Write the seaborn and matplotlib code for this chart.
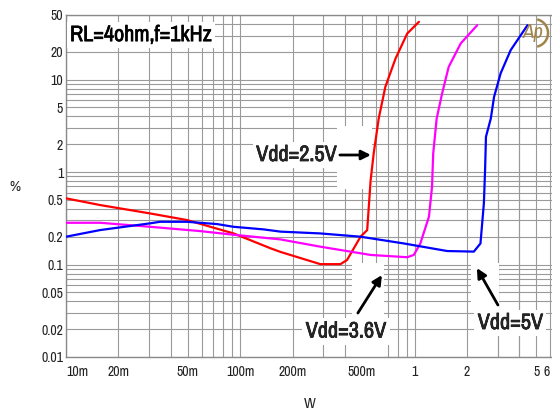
import matplotlib
matplotlib.use("Agg")
import numpy as np
import pandas as pd
import matplotlib.pyplot as plt
from matplotlib import font_manager
from matplotlib import patheffects
from matplotlib.patches import Rectangle, Arc
import seaborn as sns

# THD+N (%) versus output power (W), RL = 4 ohm, f = 1 kHz
w_25 = [0.01, 0.0157, 0.0304, 0.0494, 0.0916, 0.149, 0.17, 0.22, 0.288, 0.376,
        0.41, 0.49, 0.535, 0.56, 0.583, 0.623, 0.68, 0.778, 0.908, 1.06]
thd_25 = [0.52, 0.44, 0.357, 0.303, 0.217, 0.150, 0.137, 0.118, 0.101, 0.101,
          0.112, 0.200, 0.236, 0.82, 1.59, 3.8, 8.35, 16.9, 31.5, 42.2]

w_36 = [0.01, 0.0157, 0.0304, 0.0589, 0.0916, 0.17, 0.288, 0.56, 0.908, 0.99,
        1.08, 1.21, 1.26, 1.28, 1.34, 1.44, 1.57, 1.84, 2.29]
thd_36 = [0.283, 0.283, 0.256, 0.230, 0.21, 0.187, 0.156, 0.127, 0.12, 0.127,
          0.169, 0.33, 0.69, 1.59, 3.8, 7.1, 13.7, 24.6, 38.8]

w_50 = [0.01, 0.0157, 0.0304, 0.0346, 0.0494, 0.0735, 0.0916, 0.136, 0.17, 0.288,
        0.49, 0.869, 1.54, 2.19, 2.39, 2.5, 2.54, 2.57, 2.74, 2.86, 3.12, 3.56, 4.45]
thd_50 = [0.20, 0.236, 0.279, 0.29, 0.29, 0.274, 0.256, 0.24, 0.227, 0.217,
          0.20, 0.169, 0.14, 0.138, 0.169, 0.459, 1.05, 2.41, 3.8, 6.5, 11.7, 20.8, 38.8]

supplies = ["Vdd=2.5V", "Vdd=3.6V", "Vdd=5V"]
colors = ["#ff0000", "#ff00ff", "#0000ff"]

x_ticks = [0.01, 0.02, 0.05, 0.1, 0.2, 0.5, 1, 2, 5, 6]
x_tick_labels = ["10m", "20m", "50m", "100m", "200m", "500m", "1", "2", "5", "6"]
y_ticks = [0.01, 0.02, 0.05, 0.1, 0.2, 0.5, 1, 2, 5, 10, 20, 50]
y_tick_labels = ["0.01", "0.02", "0.05", "0.1", "0.2", "0.5", "1", "2", "5", "10", "20", "50"]

sns.set_style("white")

# prefer a narrow sans face for all lettering
narrow_family, narrow_stretch = "Liberation Sans", "normal"
for entry in font_manager.fontManager.ttflist:
    label = entry.name.lower()
    stretch = str(entry.stretch).lower()
    if "narrow" in label or "condensed" in label:
        narrow_family, narrow_stretch = entry.name, "normal"
        break
    if "condensed" in stretch and entry.name in ("DejaVu Sans", "Noto Sans", "Open Sans", "Roboto"):
        narrow_family, narrow_stretch = entry.name, "condensed"
plt.rcParams["font.family"] = [narrow_family, "DejaVu Sans"]
plt.rcParams["font.stretch"] = narrow_stretch

df = pd.concat([
    pd.DataFrame({"W": w_25, "THD": thd_25, "supply": supplies[0]}),
    pd.DataFrame({"W": w_36, "THD": thd_36, "supply": supplies[1]}),
    pd.DataFrame({"W": w_50, "THD": thd_50, "supply": supplies[2]}),
], ignore_index=True)

W, H = 552, 416
fig = plt.figure(figsize=(W / 100, H / 100), dpi=100)
ax = fig.add_axes([66 / W, 1 - 357 / H, 1 - 66 / W, (357 - 15) / H])

sns.lineplot(data=df, x="W", y="THD", hue="supply", hue_order=supplies,
             palette=colors, sort=False, estimator=None, linewidth=1.6,
             legend=False, ax=ax, zorder=3)

ax.set_xscale("log")
ax.set_yscale("log")
xmax = 6.15
ax.set_xlim(0.01, xmax)
ax.set_ylim(0.01, 50)

# grid at every 1..9 multiple of each decade
x_minor = [k * 10.0 ** d for d in range(-2, 1) for k in range(1, 10)] + [1, 2, 3, 4, 5, 6]
y_minor = [k * 10.0 ** d for d in range(-2, 2) for k in range(1, 10)]
ax.set_xticks([v for v in x_minor if v <= xmax], minor=True)
ax.set_yticks([v for v in y_minor if v <= 50], minor=True)
ax.set_xticks(x_ticks, labels=x_tick_labels)
ax.set_yticks(y_ticks, labels=y_tick_labels)
ax.tick_params(axis="both", which="both", length=0, labelsize=10, labelcolor="#222222")
ax.tick_params(axis="x", pad=6)
ax.tick_params(axis="y", pad=2)
xlabels = ax.get_xticklabels()
xlabels[0].set_horizontalalignment("left")
xlabels[-1].set_horizontalalignment("right")
ax.set_axisbelow(True)
ax.grid(True, which="both", color="#9a9a9a", linewidth=0.8)
ax.set_xlabel("")
ax.set_ylabel("")
for side in ("left", "bottom", "top"):
    ax.spines[side].set_color("#8a8a8a")
    ax.spines[side].set_linewidth(1.0)
ax.spines["right"].set_visible(False)

# white panels behind the callout arrows
for (x0, x1, y0, y1) in [(0.358, 0.567, 0.655, 3.14),
                         (0.438, 0.667, 0.01, 0.104),
                         (2.11, 3.05, 0.0306, 0.104)]:
    ax.add_patch(Rectangle((x0, y0), x1 - x0, y1 - y0, facecolor="white",
                           edgecolor="none", zorder=1.5))

# slightly heavier strokes for the callout lettering
heavy = [patheffects.withStroke(linewidth=0.5, foreground="black")]
box = dict(boxstyle="square,pad=0.15", facecolor="white", edgecolor="none")
ax.text(0.01054, 30.3, "RL=4ohm,f=1kHz", ha="left", va="center",
        fontsize=16, fontweight="bold", color="black", bbox=box, zorder=4,
        path_effects=heavy)

arrow = dict(arrowstyle="-|>", color="black", lw=2.0, mutation_scale=14,
             shrinkA=0, shrinkB=0)
ax.text(0.210, 1.53, supplies[0], ha="center", va="center", fontsize=16,
        fontweight="bold", bbox=box, zorder=4, path_effects=heavy)
ax.annotate("", xy=(0.562, 1.53), xytext=(0.373, 1.53), arrowprops=arrow, zorder=4)

ax.text(0.404, 0.0189, supplies[1], ha="center", va="center", fontsize=16,
        fontweight="bold", bbox=box, zorder=4, path_effects=heavy)
ax.annotate("", xy=(0.650, 0.0769), xytext=(0.473, 0.0299), arrowprops=arrow, zorder=4)

ax.text(3.55, 0.0233, supplies[2], ha="center", va="center", fontsize=16,
        fontweight="bold", bbox=box, zorder=4, path_effects=heavy)
ax.annotate("", xy=(2.28, 0.0916), xytext=(3.01, 0.0365), arrowprops=arrow, zorder=4)

# axis titles
fig.text(15 / W, 1 - 187 / H, "%", ha="center", va="center", fontsize=11, color="#222222")
fig.text(310 / W, 1 - 404 / H, "W", ha="center", va="center", fontsize=11, color="#222222")

# Ap badge
gold = "#a0844c"
fig.text(533 / W, 1 - 33 / H, "Ap", ha="center", va="center", fontsize=15,
         fontstyle="italic", fontweight="bold", color=gold, zorder=5)
fig.add_artist(Arc((534 / W, 1 - 33 / H), 28 / W, 28 / H, theta1=-80, theta2=80,
                   transform=fig.transFigure, color=gold, lw=1.8))

fig.savefig("out.png", dpi=100)
